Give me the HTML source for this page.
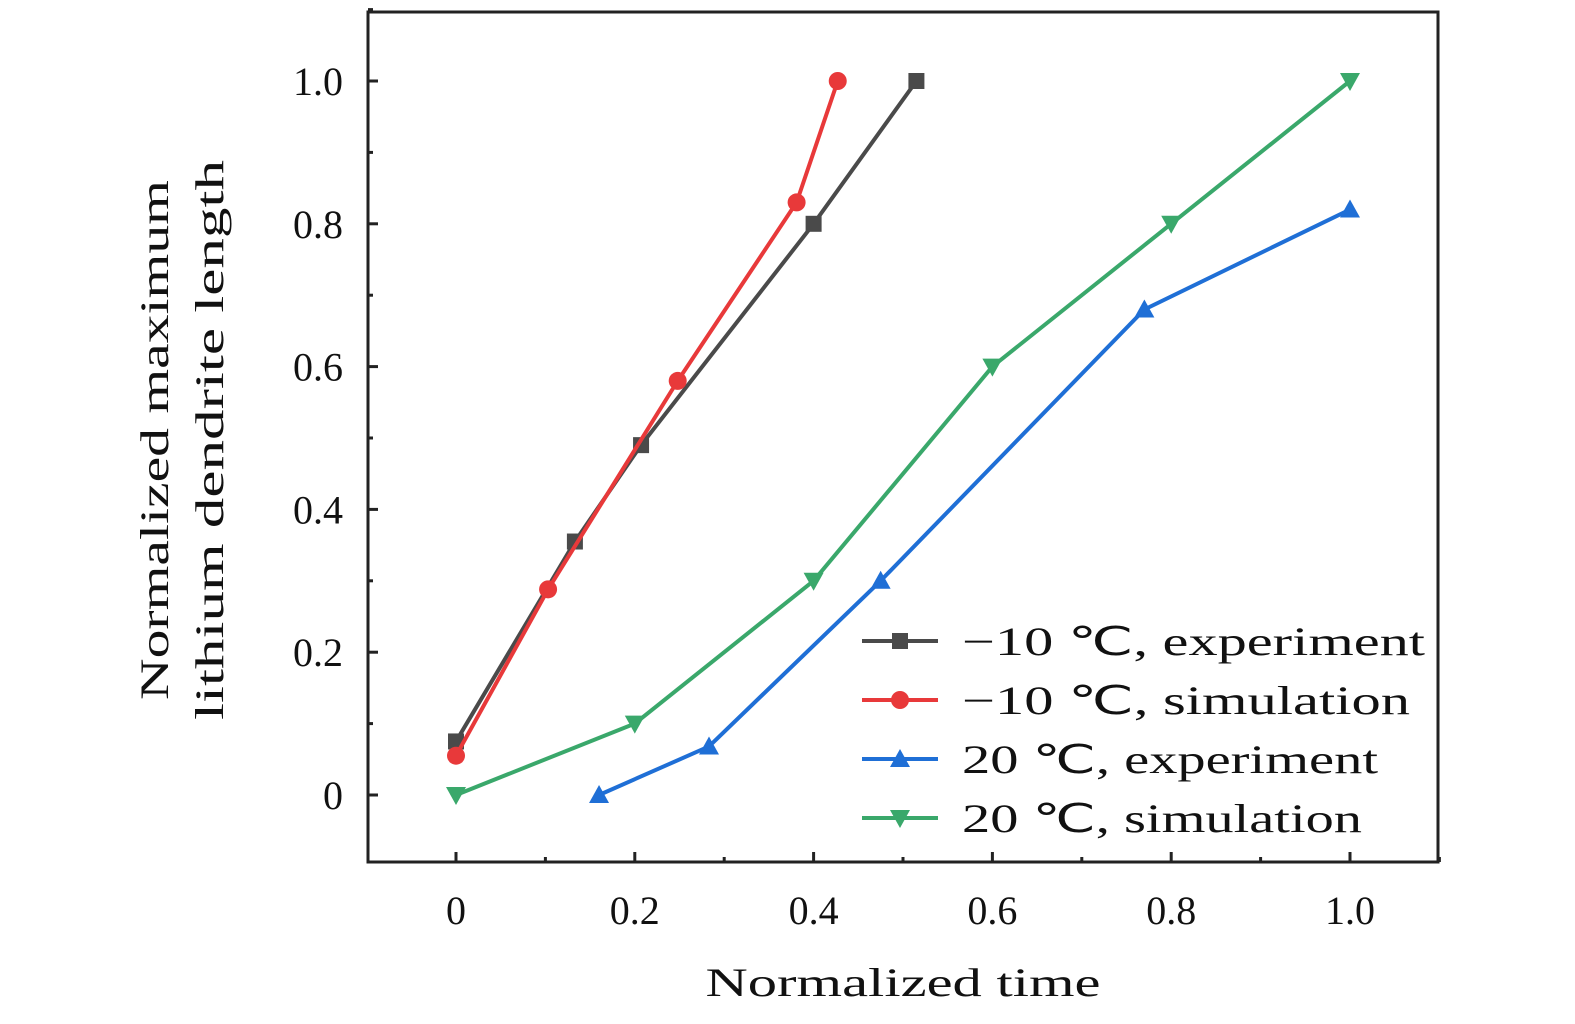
<!DOCTYPE html>
<html><head><meta charset="utf-8"><style>
html,body{margin:0;padding:0;background:#fff;}
svg{display:block;font-family:"Liberation Serif",serif;}
</style></head><body>
<svg id="chart" width="1575" height="1024" viewBox="0 0 1575 1024">
<rect x="368" y="12" width="1070" height="850" fill="none" stroke="#222" stroke-width="3"/>
<g id="ticks"></g>
<g id="series"></g>
<text x="903" y="996" font-size="40" text-anchor="middle" textLength="395" lengthAdjust="spacingAndGlyphs" fill="#111">Normalized time</text>
<text transform="translate(168,440) rotate(-90)" font-size="40" text-anchor="middle" fill="#111"><tspan x="0" dy="0" textLength="520" lengthAdjust="spacingAndGlyphs">Normalized maximum</tspan><tspan x="0" dy="55" textLength="560" lengthAdjust="spacingAndGlyphs">lithium dendrite length</tspan></text>
<g id="legend"></g>
</svg>
<script>
const xTicks=[0,0.2,0.4,0.6,0.8,1.0];
const xTickLabels=["0","0.2","0.4","0.6","0.8","1.0"];
const yTicks=[0,0.2,0.4,0.6,0.8,1.0];
const yTickLabels=["0","0.2","0.4","0.6","0.8","1.0"];
const seriesNames=["\u221210 \u2103, experiment","\u221210 \u2103, simulation","20 \u2103, experiment","20 \u2103, simulation"];
const legendWidths=[463,448,416,400];
const blackX=[0,0.133,0.207,0.4,0.515];
const blackY=[0.075,0.355,0.49,0.8,1.0];
const redX=[0,0.103,0.248,0.381,0.427];
const redY=[0.055,0.288,0.58,0.83,1.0];
const blueX=[0.16,0.283,0.475,0.77,1.0];
const blueY=[0,0.068,0.3,0.68,0.82];
const greenX=[0,0.2,0.4,0.6,0.8,1.0];
const greenY=[0,0.1,0.3,0.6,0.8,1.0];

const NS="http://www.w3.org/2000/svg";
const sx=v=>456+v*894, sy=v=>795-v*714;
function mk(tag,attrs,parent){const e=document.createElementNS(NS,tag);for(const k in attrs)e.setAttribute(k,attrs[k]);parent.appendChild(e);return e;}
const tg=document.getElementById('ticks');
xTicks.forEach((v,i)=>{
  const t=mk('line',{x1:sx(v),x2:sx(v),y1:862,y2:852,stroke:'#222','stroke-width':3},tg);
  
  
  const m=mk('line',{x1:sx(v+0.1),x2:sx(v+0.1),y1:862,y2:857,stroke:'#222','stroke-width':3},tg);
  
  
  const l=mk('text',{x:sx(v),y:924,'font-size':40,'text-anchor':'middle',fill:'#111'},tg);
  l.textContent=xTickLabels[i];
  
  
});
yTicks.forEach((v,i)=>{
  const t=mk('line',{x1:368,x2:378,y1:sy(v),y2:sy(v),stroke:'#222','stroke-width':3},tg);
  
  
  const m=mk('line',{x1:368,x2:373,y1:sy(v+0.1),y2:sy(v+0.1),stroke:'#222','stroke-width':3},tg);
  
  
  const l=mk('text',{x:343,y:sy(v)+14,'font-size':40,'text-anchor':'end',fill:'#111'},tg);
  l.textContent=yTickLabels[i];
  
  
});
function marker(g,type,x,y,c){
  let e;
  if(type==='sq') e=mk('rect',{x:x-8,y:y-8,width:16,height:16,fill:c},g);
  else if(type==='ci') e=mk('circle',{cx:x,cy:y,r:9,fill:c},g);
  else if(type==='up') e=mk('polygon',{points:`${x},${y-10} ${x-10},${y+8} ${x+10},${y+8}`,fill:c},g);
  else e=mk('polygon',{points:`${x},${y+10} ${x-10},${y-8} ${x+10},${y-8}`,fill:c},g);
  return e;
}
const defs=[[blackX,blackY,'#4a4a4a','sq','series-minus10-experiment'],[redX,redY,'#e8393a','ci','series-minus10-simulation'],[blueX,blueY,'#1f6fd6','up','series-20-experiment'],[greenX,greenY,'#3aa86b','dn','series-20-simulation']];
const sg=document.getElementById('series'), lg=document.getElementById('legend');
defs.forEach((d,i)=>{
  const g=mk('g',{},sg);
  
  
  const pl=mk('polyline',{points:d[0].map((x,j)=>sx(x)+','+sy(d[1][j])).join(' '),fill:'none',stroke:d[2],'stroke-width':4},g);
  
  
  d[0].forEach((x,j)=>{
    const p=marker(g,d[3],sx(x),sy(d[1][j]),d[2]);
    
    
  });
  const ly=641+i*59;
  const le=mk('g',{},lg);
  
  
  mk('line',{x1:862,x2:938,y1:ly,y2:ly,stroke:d[2],'stroke-width':4},le);
  marker(le,d[3],900,ly,d[2]);
  const t=mk('text',{x:962,y:ly+14,'font-size':40,fill:'#111',textLength:legendWidths[i],lengthAdjust:'spacingAndGlyphs'},le);
  t.textContent=seriesNames[i];
});
</script>
</body></html>
